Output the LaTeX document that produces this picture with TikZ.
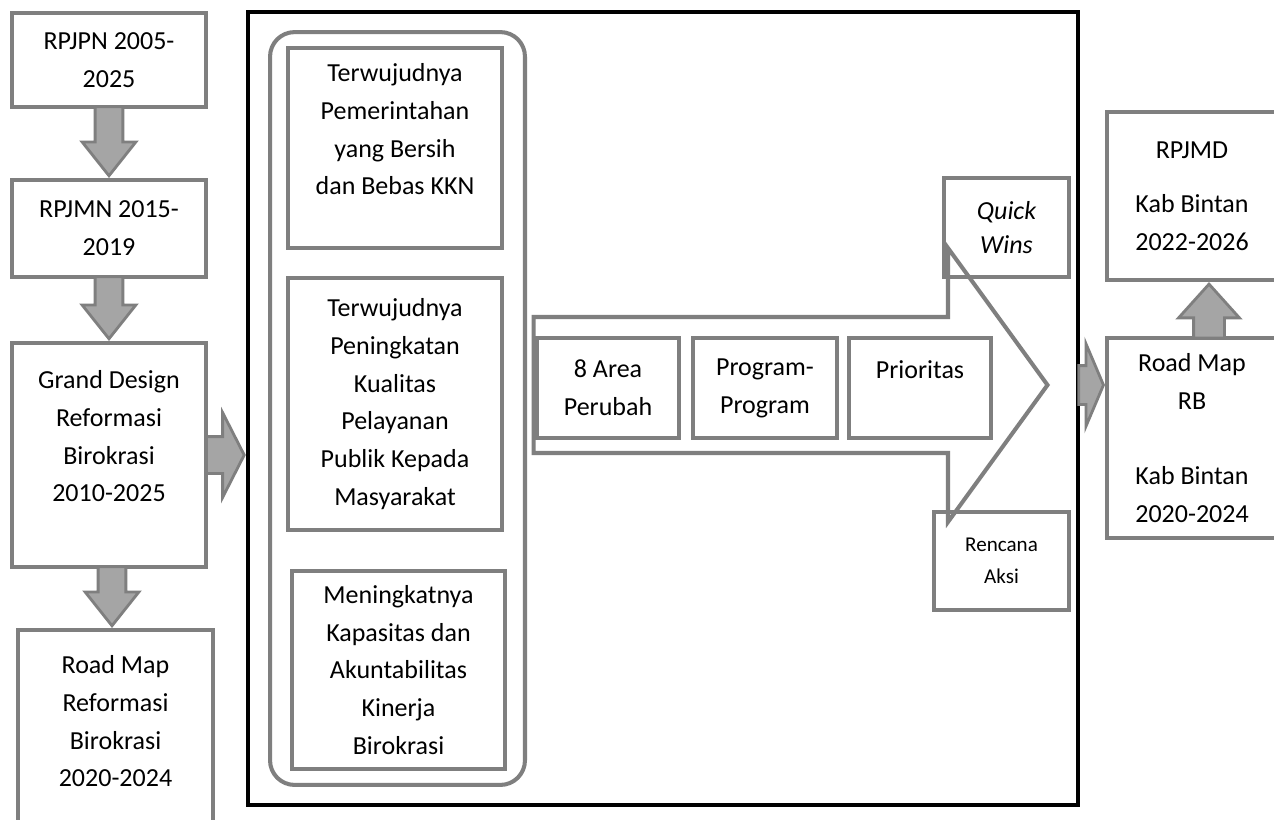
\documentclass[tikz,border=0pt]{standalone}
\usepackage{fontspec}
\setmainfont{Carlito}
\usetikzlibrary{shapes.arrows,calc}

\definecolor{boxgray}{HTML}{7F7F7F}
\definecolor{arrowgray}{HTML}{A5A5A5}

% fat gray arrow between two points
\newcommand{\blockarrow}[3][]{%
  \path let \p1=(#2), \p2=(#3), \n1={veclen(\x2-\x1,\y2-\y1)} in
    (\p1) -- node [fatarrow, pos=1, anchor=tip, minimum height=\n1, #1] {} (\p2);}

\begin{document}
\begin{tikzpicture}[x=0.02cm,y=-0.02cm,
  every node/.style={text centered, font=\fontsize{14.8}{21.5}\selectfont},
  box/.style={draw=boxgray, line width=2.3pt, fill=white, align=center, inner sep=0pt},
  fatarrow/.style={single arrow, draw=boxgray, fill=arrowgray, line width=1.6pt,
    sloped, allow upside down, inner xsep=0pt, inner ysep=0.25cm,
    single arrow head extend=0.26cm, single arrow tip angle=77}]

\useasboundingbox (0,0) rectangle (1274,819);
\clip (0,0) rectangle (1274,819);
\fill [white] (0,0) rectangle (1274,819);

%%% left column
\node [box, minimum width=3.88cm, minimum height=1.88cm] (rpjpn) at (109,60) {RPJPN 2005-\\2025};
\node [box, minimum width=3.88cm, minimum height=1.94cm] (rpjmn) at (109,228.5) {RPJMN 2015-\\2019};
\node [box, minimum width=3.88cm, minimum height=4.48cm] (grand) at (109,455) {Grand Design\\Reformasi\\Birokrasi\\2010-2025\\\mbox{}};
\node [box, minimum width=3.9cm, minimum height=4.4cm] (roadmap) at (115.5,740) {Road Map\\Reformasi\\Birokrasi\\2020-2024\\\mbox{}};

\coordinate (gdfoot) at ($(grand.south)+(3,0)$);

\blockarrow{rpjpn.south}{rpjmn.north}
\blockarrow{rpjmn.south}{grand.north}
\blockarrow{gdfoot}{gdfoot |- roadmap.north}

%%% middle frame
\node [draw=black, line width=2.6pt, fill=white, minimum width=16.6cm, minimum height=15.86cm] (frame) at (663,408.5) {};
\node [draw=boxgray, line width=2.3pt, rounded corners=14pt, minimum width=5.1cm, minimum height=15.06cm] (goals) at (397.5,408.5) {};

\node [box, minimum width=4.28cm, minimum height=4cm] (goal1) at (395,148) {Terwujudnya\\Pemerintahan\\yang Bersih\\dan Bebas KKN\\\mbox{}};
\node [box, minimum width=4.28cm, minimum height=5.04cm] (goal2) at (395,404) {Terwujudnya\\Peningkatan\\Kualitas\\Pelayanan\\Publik Kepada\\Masyarakat};
\node [box, minimum width=4.26cm, minimum height=3.96cm] (goal3) at (398.5,670) {Meningkatnya\\Kapasitas dan\\Akuntabilitas\\Kinerja\\Birokrasi};

\node [box, minimum width=2.84cm, minimum height=2cm] (area) at (608,388) {8 Area\\Perubah};
\node [box, minimum width=2.88cm, minimum height=2cm] (prog) at (765,388) {Program-\\Program};
\node [box, minimum width=2.84cm, minimum height=2cm] (prio) at (920,388) {Prioritas\\\mbox{}};

\node [box, minimum width=2.5cm, minimum height=1.98cm, font=\fontsize{14.8}{19.5}\selectfont\itshape] (quick) at (1006.5,227.5) {Quick\\Wins};
\node [box, minimum width=2.7cm, minimum height=1.96cm, font=\fontsize{12}{18.5}\selectfont] (aksi) at (1001.5,561) {Rencana\\Aksi};

\node [single arrow, draw=boxgray, line width=2.3pt, inner xsep=0pt, inner ysep=1.32cm, minimum height=10.28cm,
  single arrow head extend=1.38cm, single arrow tip angle=108, anchor=tip] (flow) at (1050,385) {};

%%% right column
\node [box, minimum width=3.4cm, minimum height=3.36cm] (rpjmd) at (1192,196) {RPJMD\\[9.6pt]Kab Bintan\\2022-2026};
\node [box, minimum width=3.4cm, minimum height=4cm] (rb) at (1192,438) {Road Map\\RB\\\mbox{}\\Kab Bintan\\2020-2024};

\blockarrow[inner ysep=0.34cm, single arrow head extend=0.48cm, single arrow tip angle=126]{grand.east}{grand.east -| frame.west}
\blockarrow[inner ysep=0.36cm, single arrow head extend=0.44cm, single arrow tip angle=134]{frame.east |- flow.tip}{rb.west |- flow.tip}
\blockarrow[inner ysep=0.28cm, single arrow head extend=0.3cm, single arrow tip angle=84]{$(rb.north)+(17,0)$}{$(rpjmd.south)+(17,0)$}

\end{tikzpicture}
\end{document}
